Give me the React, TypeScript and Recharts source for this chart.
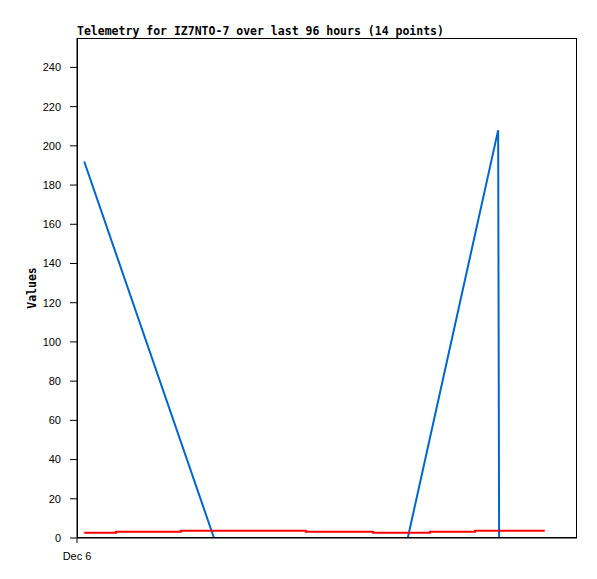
import { LineChart, Line, XAxis, YAxis } from "recharts";

// hours since Dec 6 00:00
const blueHours = [1.5, 28.5, 68.8, 87.6, 87.7, 87.8, 97.3];
const blueValues = [192, 0, 0, 208, 104, 0, 0];

const redHours = [1.5, 8.1, 21.6, 47.6, 61.6, 73.4, 82.8, 97.3];
const redValues = [2.7, 3.2, 3.7, 3.2, 2.7, 3.2, 3.7, 3.7];

const blackHours = [1.5, 97.3];
const blackValues = [0, 0];

const yTicks = [0, 20, 40, 60, 80, 100, 120, 140, 160, 180, 200, 220, 240];
const xTicks = [0];
const xTickLabels = ["Dec 6"];

const toRows = (hours: number[], values: number[]) =>
  hours.map((h, i) => ({ t: h, v: values[i] }));

const blueData = toRows(blueHours, blueValues);
const redData = toRows(redHours, redValues);
const blackData = toRows(blackHours, blackValues);

const tickStyle = { fontFamily: "Liberation Sans", fontSize: 11, fill: "#000" };
const mono = "'DejaVu Sans Mono', monospace";

export default function App() {
  return (
    <div style={{ position: "absolute", left: 0, top: 0, width: 597, height: 579, background: "#fff" }}>
      <div
        style={{
          position: "absolute",
          left: 77,
          top: 24,
          fontFamily: mono,
          fontWeight: "bold",
          fontSize: 11.5,
          whiteSpace: "nowrap",
          lineHeight: "14px",
        }}
      >
        Telemetry for IZ7NTO-7 over last 96 hours (14 points)
      </div>
      <div
        style={{
          position: "absolute",
          left: 32,
          top: 288,
          transform: "translate(-50%, -50%) rotate(-90deg)",
          fontFamily: mono,
          fontWeight: "bold",
          fontSize: 11.5,
          whiteSpace: "nowrap",
        }}
      >
        Values
      </div>
      <LineChart width={597} height={579} margin={{ top: 38, right: 20, bottom: 21, left: 0 }}>
        <XAxis
          dataKey="t"
          type="number"
          domain={[0, 104]}
          ticks={xTicks}
          tickFormatter={(v: number) => xTickLabels[xTicks.indexOf(v)] ?? ""}
          allowDuplicatedCategory={false}
          height={20}
          tickSize={5}
          tickMargin={9}
          stroke="#000"
          tick={tickStyle}
        />
        <YAxis
          type="number"
          domain={[0, 255]}
          ticks={yTicks}
          width={77}
          tickSize={7}
          tickMargin={9}
          stroke="#000"
          tick={tickStyle}
          allowDataOverflow
        />
        <Line data={blueData} dataKey="v" stroke="#0066cc" strokeWidth={2} dot={false} isAnimationActive={false} />
        <Line data={redData} dataKey="v" type="stepAfter" stroke="#ff0000" strokeWidth={2} dot={false} isAnimationActive={false} />
        <Line data={blackData} dataKey="v" stroke="#000" strokeWidth={2} dot={false} isAnimationActive={false} />
      </LineChart>
      <div
        style={{
          position: "absolute",
          left: 77,
          top: 38,
          width: 500,
          height: 500,
          border: "1px solid #000",
          boxSizing: "border-box",
          pointerEvents: "none",
        }}
      />
    </div>
  );
}
